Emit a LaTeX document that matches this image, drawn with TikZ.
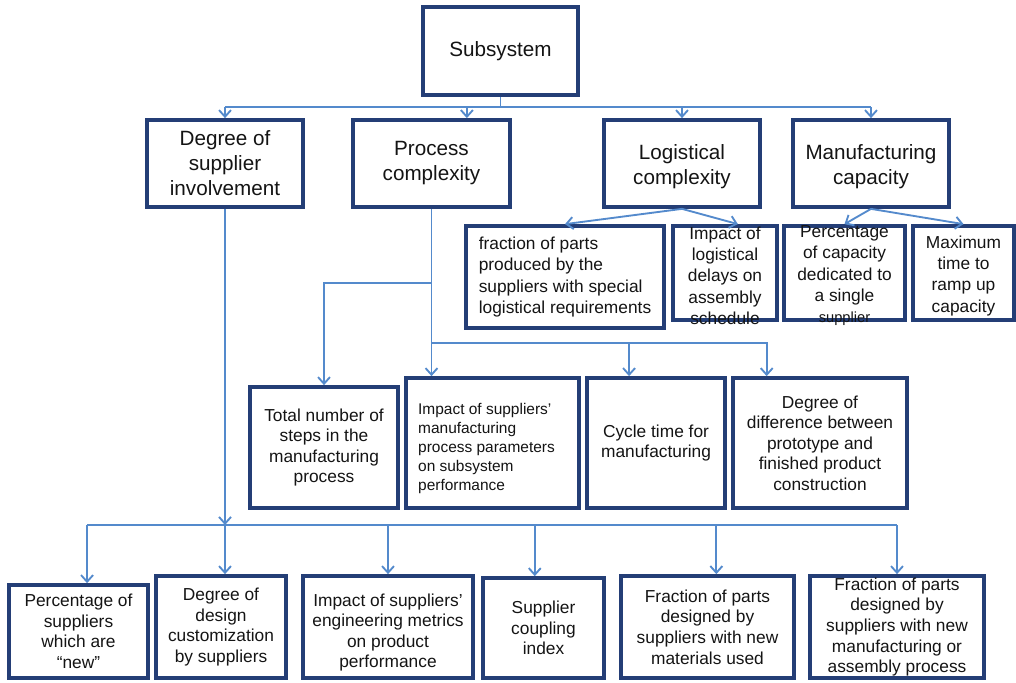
\documentclass[tikz,border=0pt]{standalone}
\usepackage{fontspec}
\setmainfont{Liberation Sans}
\usetikzlibrary{arrows.meta,fit,calc}
\definecolor{boxc}{RGB}{36,62,118}
\definecolor{linec}{RGB}{84,138,204}
\definecolor{txtc}{RGB}{20,20,20}
\tikzset{
  box/.style={draw=boxc, line width=2.8pt, inner sep=0pt, fill=white},
  conn/.style={draw=linec, line width=1.4pt},
  arr/.style={conn, -{Straight Barb[length=5pt,width=9pt]}},
  big/.style={font=\fontsize{15.5}{18.75}\selectfont, align=center, text=txtc, inner sep=0pt},
  sm/.style={font=\fontsize{13}{15.4}\selectfont, align=center, text=txtc, inner sep=0pt},
  md/.style={font=\fontsize{13}{16}\selectfont, align=center, text=txtc, inner sep=0pt},
  xs/.style={font=\fontsize{11.6}{14.25}\selectfont, align=center, text=txtc, inner sep=0pt},
}
\newcommand{\bx}[7]{%
  \node[box, fit={(#2,#3) (#4,#5)}] (#1) {};
  \node[#6] (#1-t) at (#1.center) {#7};
}
\begin{document}
\begin{tikzpicture}[x=0.75pt,y=-0.75pt]
\useasboundingbox (0,0) rectangle (1016,682);
% top level
\bx{sub}{423}{7}{578}{95}{big}{Subsystem}
\bx{degsup}{147}{120}{303}{207}{big}{Degree of\\supplier\\involvement}
\bx{proc}{353}{120}{510}{207}{big}{Process\\complexity}
\bx{logi}{604}{120}{760}{207}{big, yshift=-2pt}{Logistical\\complexity}
\bx{manu}{793}{120}{949}{207}{big, yshift=-2pt}{Manufacturing\\capacity}
% logistical / manufacturing children
\bx{frac}{466}{226}{664}{328}{md, align=left}{fraction of parts\\produced by the\\suppliers with special\\logistical requirements}
\bx{implog}{673}{226}{777}{320}{md, yshift=-2pt}{Impact of\\logistical\\delays on\\assembly\\schedule}
\bx{pctcap}{784}{226}{905}{320}{md, yshift=-2pt}{Percentage\\of capacity\\dedicated to\\a single\\{\fontsize{11}{13}\selectfont supplier}}
\bx{maxt}{913}{226}{1014}{320}{md, yshift=-2pt}{Maximum\\time to\\ramp up\\capacity}
% process children
\bx{total}{250}{387}{398}{508}{sm}{Total number of\\steps in the\\manufacturing\\process}
\bx{impmfg}{406}{378}{579}{508}{xs, align=left, xshift=-4.5pt, yshift=-4pt}{Impact of suppliers’\\manufacturing\\process parameters\\on subsystem\\performance}
\bx{cycle}{587}{378}{725}{508}{sm}{Cycle time for\\manufacturing}
\bx{degdiff}{733}{378}{907}{508}{sm}{Degree of\\difference between\\prototype and\\finished product\\construction}
% supplier involvement children
\bx{pctsup}{9}{585}{148}{678}{sm}{Percentage of\\suppliers\\which are\\“new”}
\bx{design}{156}{576}{286}{678}{sm}{Degree of\\design\\customization\\by suppliers}
\bx{impeng}{303}{576}{473}{678}{sm, yshift=-4pt}{Impact of suppliers’\\engineering metrics\\on product\\performance}
\bx{coupling}{483}{578}{604}{678}{sm}{Supplier\\coupling\\index}
\bx{fracmat}{621}{576}{794}{678}{sm}{Fraction of parts\\designed by\\suppliers with new\\materials used}
\bx{fracmfg}{810}{576}{984}{678}{sm}{Fraction of parts\\designed by\\suppliers with new\\manufacturing or\\assembly process}

% top bus
\coordinate (busT) at (500,107);
\draw[conn] (sub.south) -- (sub.south |- busT);
\draw[conn] (busT -| degsup.north) -- (busT -| manu.north);
\coordinate (procin) at ($(proc.north west)!0.72!(proc.north east)$);
\draw[arr] (busT -| degsup.north) -- (degsup.north);
\draw[arr] (busT -| procin) -- (procin);
\draw[arr] (busT -| logi.north) -- (logi.north);
\draw[arr] (busT -| manu.north) -- (manu.north);

% logistical / manufacturing
\coordinate (ilin) at ($(implog.north west)!0.62!(implog.north east)$);
\draw[arr] (logi.south) -- (frac.north);
\draw[arr] (logi.south) -- (ilin);
\draw[arr] (manu.south) -- (pctcap.north);
\draw[arr] (manu.south) -- (maxt.north);

% process complexity
\coordinate (pbr) at (proc.south |- 0,283);
\coordinate (pbus) at (proc.south |- 0,343);
\coordinate (cyin) at ($(cycle.north west)!0.31!(cycle.north east)$);
\coordinate (ddin) at ($(degdiff.north west)!0.2!(degdiff.north east)$);
\draw[arr] (proc.south) -- (proc.south |- impmfg.north);
\draw[arr] (pbr) -| (total.north);
\draw[arr] (pbus) -| (ddin);
\draw[arr] (cyin |- pbus) -- (cyin);

% supplier involvement
\coordinate (bbus) at (225,525);
\coordinate (psin) at ($(pctsup.north west)!0.56!(pctsup.north east)$);
\coordinate (cpin) at ($(coupling.north west)!0.43!(coupling.north east)$);
\coordinate (fmin) at ($(fracmat.north west)!0.55!(fracmat.north east)$);
\draw[arr] (degsup.south) -- (degsup.south |- bbus);
\draw[conn] (psin |- bbus) -- (fracmfg.north |- bbus);
\draw[arr] (psin |- bbus) -- (psin);
\draw[arr] (degsup.south |- bbus) -- (degsup.south |- design.north);
\draw[arr] (impeng.north |- bbus) -- (impeng.north);
\draw[arr] (cpin |- bbus) -- (cpin);
\draw[arr] (fmin |- bbus) -- (fmin);
\draw[arr] (fracmfg.north |- bbus) -- (fracmfg.north);
\end{tikzpicture}
\end{document}
